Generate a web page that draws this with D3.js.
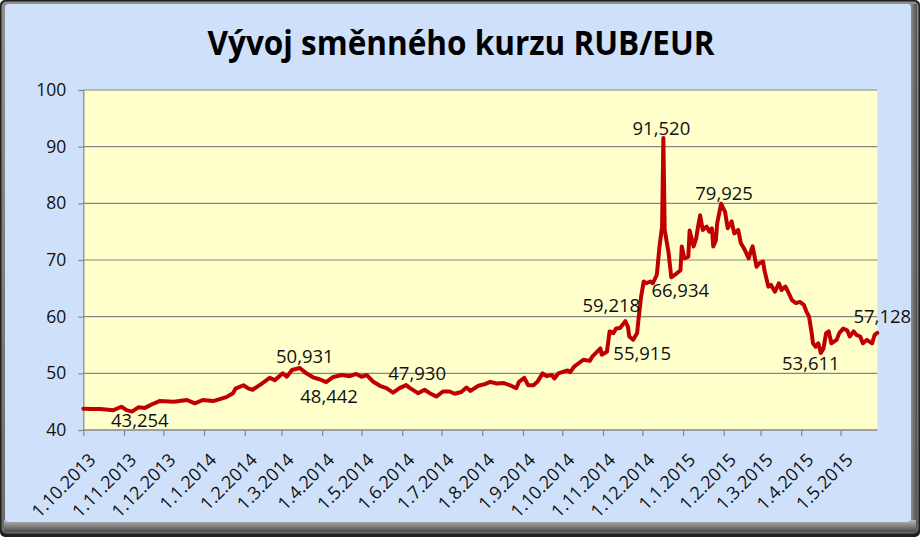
<!DOCTYPE html>
<html><head><meta charset="utf-8">
<script src="https://cdn.jsdelivr.net/npm/d3@7"></script>
<style>
html,body{margin:0;padding:0;background:#fff;}
svg{display:block;}
text{font-family:"Open Sans","Noto Sans",sans-serif;}
</style></head>
<body><svg id="c" width="920" height="537"></svg>
<script>
const chartTitle = "Vývoj směnného kurzu RUB/EUR";
const dates = ["2013-10-01","2013-10-08","2013-10-14","2013-10-24","2013-10-30","2013-11-03","2013-11-07","2013-11-12","2013-11-17","2013-11-22","2013-11-28","2013-12-09","2013-12-19","2013-12-25","2013-12-31","2014-01-08","2014-01-18","2014-01-23","2014-01-25","2014-01-31","2014-02-04","2014-02-07","2014-02-14","2014-02-20","2014-02-24","2014-03-02","2014-03-05","2014-03-09","2014-03-15","2014-03-20","2014-03-25","2014-03-30","2014-04-04","2014-04-09","2014-04-16","2014-04-22","2014-04-27","2014-05-01","2014-05-05","2014-05-10","2014-05-15","2014-05-20","2014-05-25","2014-05-30","2014-06-04","2014-06-07","2014-06-13","2014-06-18","2014-06-22","2014-06-27","2014-07-02","2014-07-07","2014-07-11","2014-07-16","2014-07-20","2014-07-23","2014-07-29","2014-08-03","2014-08-07","2014-08-12","2014-08-17","2014-08-22","2014-08-27","2014-08-29","2014-09-02","2014-09-05","2014-09-09","2014-09-12","2014-09-16","2014-09-19","2014-09-23","2014-09-25","2014-09-28","2014-10-02","2014-10-05","2014-10-07","2014-10-10","2014-10-17","2014-10-22","2014-10-24","2014-10-30","2014-10-31","2014-11-04","2014-11-06","2014-11-09","2014-11-11","2014-11-14","2014-11-18","2014-11-20","2014-11-21","2014-11-24","2014-11-27","2014-11-28","2014-11-30","2014-12-02","2014-12-04","2014-12-07","2014-12-09","2014-12-12","2014-12-14","2014-12-16","2014-12-17","2014-12-18","2014-12-21","2014-12-23","2014-12-27","2014-12-30","2014-12-31","2015-01-02","2015-01-05","2015-01-06","2015-01-09","2015-01-11","2015-01-12","2015-01-14","2015-01-16","2015-01-19","2015-01-21","2015-01-23","2015-01-24","2015-01-26","2015-01-27","2015-01-30","2015-02-02","2015-02-04","2015-02-07","2015-02-09","2015-02-12","2015-02-14","2015-02-17","2015-02-20","2015-02-22","2015-02-23","2015-02-26","2015-02-28","2015-03-03","2015-03-04","2015-03-07","2015-03-09","2015-03-12","2015-03-15","2015-03-17","2015-03-20","2015-03-22","2015-03-25","2015-03-28","2015-03-31","2015-04-03","2015-04-05","2015-04-07","2015-04-09","2015-04-10","2015-04-12","2015-04-14","2015-04-16","2015-04-18","2015-04-20","2015-04-22","2015-04-24","2015-04-28","2015-04-30","2015-05-03","2015-05-06","2015-05-08","2015-05-11","2015-05-13","2015-05-16","2015-05-18","2015-05-21","2015-05-23","2015-05-25","2015-05-27","2015-05-29"];
const rates = [43.75,43.70,43.72,43.50,44.10,43.50,43.254,44.00,43.90,44.50,45.10,45.00,45.30,44.70,45.30,45.10,45.80,46.50,47.30,47.90,47.30,47.10,48.20,49.20,48.80,50.00,49.40,50.60,50.931,50.00,49.30,48.95,48.442,49.30,49.70,49.50,49.90,49.40,49.70,48.50,47.80,47.40,46.60,47.40,47.930,47.40,46.50,47.10,46.50,45.90,46.80,46.80,46.40,46.70,47.50,46.90,47.80,48.10,48.50,48.20,48.30,47.90,47.40,48.50,49.20,47.90,47.90,48.50,50.00,49.50,49.70,49.10,50.00,50.30,50.50,50.20,51.20,52.40,52.20,53.00,54.40,53.30,53.80,57.40,57.10,57.90,58.00,59.218,58.20,56.50,55.915,57.10,59.40,63.50,66.20,65.90,66.20,65.90,67.40,72.30,75.90,91.520,75.30,71.20,66.934,67.60,68.20,72.40,70.30,70.60,75.20,72.40,73.80,75.30,77.90,75.30,75.90,75.00,75.60,72.40,73.50,76.50,79.925,78.50,75.60,76.80,74.70,75.30,73.00,71.80,70.30,71.80,72.40,68.80,69.40,69.70,68.20,65.30,65.60,64.40,65.90,64.70,65.30,64.40,62.90,62.40,62.60,62.10,60.90,60.00,57.10,55.30,54.70,55.30,53.611,54.40,57.10,57.40,55.30,55.90,57.10,57.90,57.60,56.50,57.40,56.80,56.50,55.30,55.90,55.60,55.30,56.80,57.128];
const labelDates = ["2013-11-07","2014-03-15","2014-04-04","2014-06-04","2014-11-18","2014-11-24","2014-12-17","2014-12-23","2015-01-30","2015-04-16","2015-05-29"];
const labelValues = [43.254,50.931,48.442,47.930,59.218,55.915,91.520,66.934,79.925,53.611,57.128];
const xTickLabels = ["1.10.2013","1.11.2013","1.12.2013","1.1.2014","1.2.2014","1.3.2014","1.4.2014","1.5.2014","1.6.2014","1.7.2014","1.8.2014","1.9.2014","1.10.2014","1.11.2014","1.12.2014","1.1.2015","1.2.2015","1.3.2015","1.4.2015","1.5.2015"];
const yTicks = [40,50,60,70,80,90,100];
const xDomain = ["2013-10-01","2015-05-29"];

const parse = d3.timeParse("%Y-%m-%d");
const parseTick = d3.timeParse("%d.%m.%Y");
const data = dates.map((d,i)=>({date:parse(d), v:rates[i]}));

const svg = d3.select("#c");
const W = 920, H = 537;
const L = 83.3, R = 877.3, T = 90, B = 430;

const defs = svg.append("defs");
const g1 = defs.append("linearGradient").attr("id","bevel").attr("x1",0).attr("y1",0).attr("x2",0).attr("y2",1);
g1.append("stop").attr("offset","0%").attr("stop-color","#8e8e8e");
g1.append("stop").attr("offset","100%").attr("stop-color","#6c6c6c");
const g2 = defs.append("linearGradient").attr("id","bevelR").attr("x1",0).attr("y1",0).attr("x2",1).attr("y2",0);
g2.append("stop").attr("offset","0%").attr("stop-color","#c8c8c8");
g2.append("stop").attr("offset","100%").attr("stop-color","#505050");
const g3 = defs.append("linearGradient").attr("id","bevelB").attr("x1",0).attr("y1",0).attr("x2",0).attr("y2",1);
g3.append("stop").attr("offset","0%").attr("stop-color","#b8b8b8");
g3.append("stop").attr("offset","100%").attr("stop-color","#4a4a4a");

// frame
svg.append("rect").attr("x",0).attr("y",0).attr("width",W).attr("height",H).attr("rx",5).attr("fill","#202020");
svg.append("rect").attr("x",1.5).attr("y",1.5).attr("width",W-3).attr("height",H-5).attr("rx",5).attr("fill","url(#bevel)");
svg.append("rect").attr("x",905).attr("y",4).attr("width",12).attr("height",H-10).attr("fill","url(#bevelR)");
svg.append("rect").attr("x",4).attr("y",520).attr("width",W-8).attr("height",12).attr("fill","url(#bevelB)");
svg.append("rect").attr("x",5).attr("y",4).attr("width",906).attr("height",518).attr("rx",4).attr("fill","#CFE1FA");

// plot area
svg.append("rect").attr("x",L).attr("y",T).attr("width",R-L).attr("height",B-T).attr("fill","#FFFFCC");

const x = d3.scaleTime().domain(xDomain.map(parse)).range([L,R]);
const y = d3.scaleLinear().domain([40,100]).range([B,T]);

// gridlines
svg.append("g").selectAll("line").data(yTicks).join("line")
  .attr("x1",L).attr("x2",R).attr("y1",d=>y(d)).attr("y2",d=>y(d))
  .attr("stroke","#868686").attr("stroke-width",1.2);

// y axis
const yAxis = d3.axisLeft(y).tickValues(yTicks).tickSize(5).tickPadding(12).tickFormat(d3.format("d"));
const ya = svg.append("g").attr("transform",`translate(${L},0)`).call(yAxis);
ya.select(".domain").attr("stroke","#868686").attr("stroke-width",1.2);
ya.selectAll(".tick line").attr("stroke","#868686").attr("stroke-width",1.2);
ya.selectAll(".tick text").attr("font-size",17.5).attr("fill","#111").attr("font-family","'Open Sans',sans-serif");

// x axis
const tickDates = xTickLabels.map(parseTick);
const xAxis = d3.axisBottom(x).tickValues(tickDates).tickSize(6).tickFormat((d,i)=>xTickLabels[i]);
const xa = svg.append("g").attr("transform",`translate(0,${B})`).call(xAxis);
xa.select(".domain").attr("stroke","#868686").attr("stroke-width",1.2).attr("d",`M${L},0H${R}`);
xa.selectAll(".tick line").attr("stroke","#868686").attr("stroke-width",1.2);
xa.selectAll(".tick text").attr("font-size",18).attr("fill","#111").attr("font-family","'Open Sans',sans-serif")
  .attr("text-anchor","end").attr("dy",0).attr("y",0)
  .attr("transform","translate(13,31) rotate(-45)");

// line
const line = d3.line().x(d=>x(d.date)).y(d=>y(d.v)).curve(d3.curveLinear);
svg.append("path").datum(data).attr("d",line).attr("fill","none")
  .attr("stroke","#C00000").attr("stroke-width",4).attr("stroke-linejoin","round").attr("stroke-linecap","round");

// data labels
const labelOffsets = [[8,15],[5,-5],[3,21],[11,-5],[-14,-9],[9,20],[-2,-3],[9,20],[3,-4],[-10,17.5],[5,-10]];
const fmt = v => d3.format(".3f")(v).replace(".",",");
svg.append("g").selectAll("text").data(labelDates).join("text")
  .attr("x",(d,i)=>x(parse(d))+labelOffsets[i][0])
  .attr("y",(d,i)=>y(labelValues[i])+labelOffsets[i][1])
  .attr("text-anchor","middle").attr("font-size",18.5).attr("fill","#111")
  .text((d,i)=>fmt(labelValues[i]));

// title
svg.append("text").attr("x",W/2+1).attr("y",54.5).attr("text-anchor","middle")
  .attr("font-size",34).attr("font-weight","bold").attr("fill","#000")
  .attr("textLength",507).attr("lengthAdjust","spacingAndGlyphs")
  .text(chartTitle);
</script></body></html>
